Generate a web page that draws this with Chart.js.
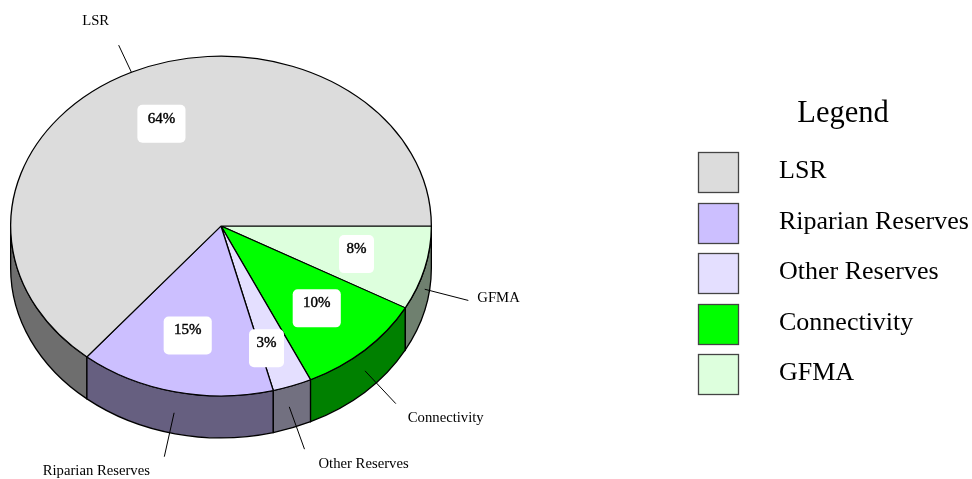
<!DOCTYPE html>
<html>
<head>
<meta charset="utf-8">
<title>Reserves pie</title>
<script src="https://cdn.jsdelivr.net/npm/chart.js@4"></script>
<style>
    html, body { margin: 0; padding: 0; background: #fff; }
    canvas { display: block; }
</style>
</head>
<body>
<canvas id="reservesChart" width="972" height="479"></canvas>
<script>
// data, in legend order
const categories = ['LSR', 'Riparian Reserves', 'Other Reserves', 'Connectivity', 'GFMA'];
const shares = [64, 15, 3, 10, 8];
const topColors = ['#dcdcdc', '#ccbfff', '#e4dfff', '#00ff00', '#ddffdd'];
const sideColors = ['#6e6e6e', '#665f80', '#727080', '#008000', '#6f806f'];
const legendTitle = 'Legend';

// the pie is tilted by squashing it vertically
const SQUASH = 170 / 210.5;
const DEPTH = 42;
const SERIF = "'Liberation Serif', 'Times New Roman', serif";

// callout tweaks per category (same order as categories)
const boxRadius = [0.665, 0.66, 0.765, 0.665, 0.665];
const boxNudge = [0, -3, -9, 0, 0];
const leaderLength = [30, 45, 45, 45, 45];
const leaderNudge = [0, -1, -3, 0, 0];
const nameOffset = [[-23, -24], [-68, 14], [14, 15], [12, 15], [9, -2]];
const nameAlign = ['center', 'center', 'left', 'left', 'left'];

// chart.js only goes clockwise, the picture has LSR last going clockwise from 3 o'clock
const reversed = arr => arr.slice().reverse();

const arcFor = (chart, i) => chart.getDatasetMeta(0).data[categories.length - 1 - i];

const tiltPie = {
    id: 'tiltPie',
    beforeDatasetsDraw(chart) {
        const ctx = chart.ctx;
        const first = arcFor(chart, 0);
        const cx = first.x, cy = first.y, r = first.outerRadius;

        // side wall, only the front half of the rim can be seen
        categories.forEach((name, i) => {
            const arc = arcFor(chart, i);
            const a0 = Math.max(arc.startAngle, 0);
            const a1 = Math.min(arc.endAngle, Math.PI);
            if (a1 <= a0) return;
            ctx.beginPath();
            ctx.ellipse(cx, cy, r, r * SQUASH, 0, a0, a1);
            ctx.ellipse(cx, cy + DEPTH, r, r * SQUASH, 0, a1, a0, true);
            ctx.closePath();
            ctx.fillStyle = sideColors[i];
            ctx.fill();
            ctx.strokeStyle = '#000';
            ctx.lineWidth = 1.3;
            ctx.stroke();
        });

        ctx.save();
        ctx.translate(cx, cy);
        ctx.scale(1, SQUASH);
        ctx.translate(-cx, -cy);
    },
    afterDatasetsDraw(chart) {
        chart.ctx.restore();
    }
};

const callouts = {
    id: 'callouts',
    afterDraw(chart) {
        const ctx = chart.ctx;
        ctx.save();
        categories.forEach((name, i) => {
            const arc = arcFor(chart, i);
            const mid = (arc.startAngle + arc.endAngle) / 2;
            const cos = Math.cos(mid), sin = Math.sin(mid);
            const r = arc.outerRadius;

            // percentage on a white rounded box
            const bx = arc.x + r * boxRadius[i] * cos + boxNudge[i];
            const by = arc.y + r * boxRadius[i] * SQUASH * sin;
            const text = shares[i] + '%';
            ctx.font = '15px ' + SERIF;
            const w = ctx.measureText(text).width * 1.75;
            ctx.beginPath();
            ctx.roundRect(bx - w / 2, by - 19, w, 38, 5);
            ctx.fillStyle = '#fff';
            ctx.fill();
            ctx.fillStyle = '#000';
            ctx.strokeStyle = '#000';
            ctx.lineWidth = 0.4;
            ctx.textAlign = 'center';
            ctx.textBaseline = 'middle';
            ctx.fillText(text, bx, by - 5);
            ctx.strokeText(text, bx, by - 5);

            // leader from the rim or the middle of the side wall
            const x0 = arc.x + r * cos + leaderNudge[i];
            const y0 = arc.y + r * SQUASH * sin + (sin > 0 ? DEPTH / 2 : 0);
            const x1 = x0 + leaderLength[i] * cos;
            const y1 = y0 + leaderLength[i] * sin;
            ctx.beginPath();
            ctx.moveTo(x0, y0);
            ctx.lineTo(x1, y1);
            ctx.lineWidth = 1;
            ctx.stroke();

            ctx.font = '14.7px ' + SERIF;
            ctx.textAlign = nameAlign[i];
            ctx.fillText(name, x1 + nameOffset[i][0], y1 + nameOffset[i][1]);
        });

        // legend
        ctx.fillStyle = '#000';
        ctx.font = '30.5px ' + SERIF;
        ctx.textAlign = 'center';
        ctx.textBaseline = 'middle';
        ctx.fillText(legendTitle, 843, 114);
        ctx.textAlign = 'left';
        ctx.font = '26px ' + SERIF;
        categories.forEach((name, i) => {
            const y = Math.floor(152.5 + i * 50.5);
            ctx.fillStyle = topColors[i];
            ctx.fillRect(698.5, y + 0.5, 40, 40);
            ctx.strokeStyle = '#444';
            ctx.lineWidth = 1.3;
            ctx.strokeRect(698.5, y + 0.5, 40, 40);
            ctx.fillStyle = '#000';
            ctx.fillText(name, 779, y + 19);
        });
        ctx.restore();
    }
};

new Chart(document.getElementById('reservesChart'), {
    type: 'pie',
    data: {
        labels: reversed(categories),
        datasets: [{
            data: reversed(shares),
            backgroundColor: reversed(topColors),
            borderColor: '#000',
            borderWidth: 1.3,
            clip: false
        }]
    },
    options: {
        responsive: false,
        animation: false,
        rotation: 90,
        layout: { padding: { left: 10, right: 540, top: 15, bottom: 42 } },
        plugins: {
            legend: { display: false },
            tooltip: { enabled: false }
        }
    },
    plugins: [tiltPie, callouts]
});
</script>
</body>
</html>
